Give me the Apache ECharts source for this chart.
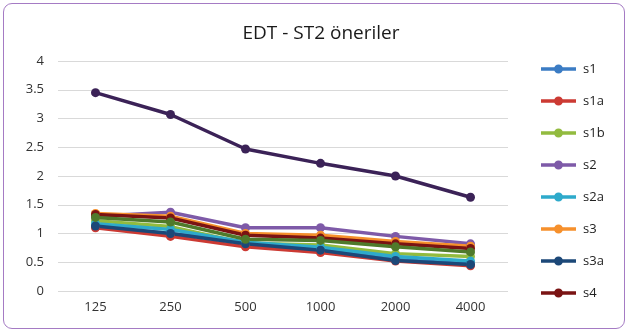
<!DOCTYPE html>
<html><head><meta charset="utf-8">
<script src="https://cdn.jsdelivr.net/npm/echarts@6/dist/echarts.min.js"></script>
<style>
html,body{margin:0;padding:0;background:#fff;}
#frame{position:absolute;left:3px;top:3px;width:620px;height:324px;border:1.5px solid #a57bc4;border-radius:9px;}
#c{position:absolute;left:0;top:0;width:629px;height:333px;}
</style></head><body>
<div id="frame"></div>
<div id="c"></div>
<script>
const categories = ['125','250','500','1000','2000','4000'];
const s1   = [1.12, 1.00, 0.85, 0.72, 0.55, 0.47];
const s1a  = [1.10, 0.95, 0.77, 0.67, 0.52, 0.44];
const s1b  = [1.22, 1.12, 0.83, 0.80, 0.65, 0.60];
const s2   = [1.30, 1.37, 1.10, 1.10, 0.95, 0.82];
const s2a  = [1.17, 1.07, 0.85, 0.76, 0.60, 0.52];
const s3   = [1.35, 1.30, 1.00, 0.97, 0.86, 0.78];
const s3a  = [1.13, 1.00, 0.82, 0.71, 0.53, 0.46];
const s4   = [1.33, 1.27, 0.97, 0.92, 0.82, 0.74];
const s4a  = [1.28, 1.20, 0.90, 0.88, 0.77, 0.68];
const s5   = [3.45, 3.07, 2.47, 2.22, 2.00, 1.63];
const legendNames = ['s1','s1a','s1b','s2','s2a','s3','s3a','s4'];

const defs = [
  ['s1', s1, '#3b7cc4'],
  ['s1a', s1a, '#cc3a33'],
  ['s1b', s1b, '#92bb3f'],
  ['s2', s2, '#7e5aa8'],
  ['s2a', s2a, '#2eaacb'],
  ['s3', s3, '#f6902c'],
  ['s3a', s3a, '#1c4878'],
  ['s4', s4, '#7a1313'],
  ['s4a', s4a, '#4f7a2b'],
  ['s5', s5, '#3b2257']
];
const legendIcon = 'path://M0,2.75 L35,2.75 L35,6.25 L0,6.25 Z M13,4.5 A4.5,4.5 0 1,1 22,4.5 A4.5,4.5 0 1,1 13,4.5 Z';
const chart = echarts.init(document.getElementById('c'), null, {renderer:'canvas'});
chart.setOption({
  animation:false,
  title:{text:'EDT - ST2 öneriler', left:316, textAlign:'center', top:19,
    textStyle:{fontFamily:'Open Sans', fontSize:19, fontWeight:'normal', color:'#1a1a1a'}},
  grid:{left:58, right:121, top:61, bottom:42},
  legend:{data:legendNames, orient:'vertical', left:536, top:57, itemWidth:35, itemHeight:9, itemGap:18,
    icon:legendIcon,
    textStyle:{fontFamily:'Open Sans', fontSize:13, color:'#222', lineHeight:14, padding:[0,0,0,2]}},
  xAxis:{type:'category', data:categories, boundaryGap:true,
    axisLine:{show:false}, axisTick:{show:false},
    axisLabel:{fontFamily:'Open Sans', fontSize:13, color:'#333', margin:10}},
  yAxis:{type:'value', min:0, max:4, interval:0.5,
    axisLine:{show:false}, axisTick:{show:false},
    splitLine:{lineStyle:{color:'#d9d9d9', width:1}},
    axisLabel:{fontFamily:'Open Sans', fontSize:13, color:'#333', margin:14}},
  series: defs.map(d => ({
    name:d[0], type:'line', data:d[1], symbol:'circle', symbolSize:9,
    lineStyle:{width:3.5, color:d[2]}, itemStyle:{color:d[2]}
  }))
});
</script>
</body></html>
